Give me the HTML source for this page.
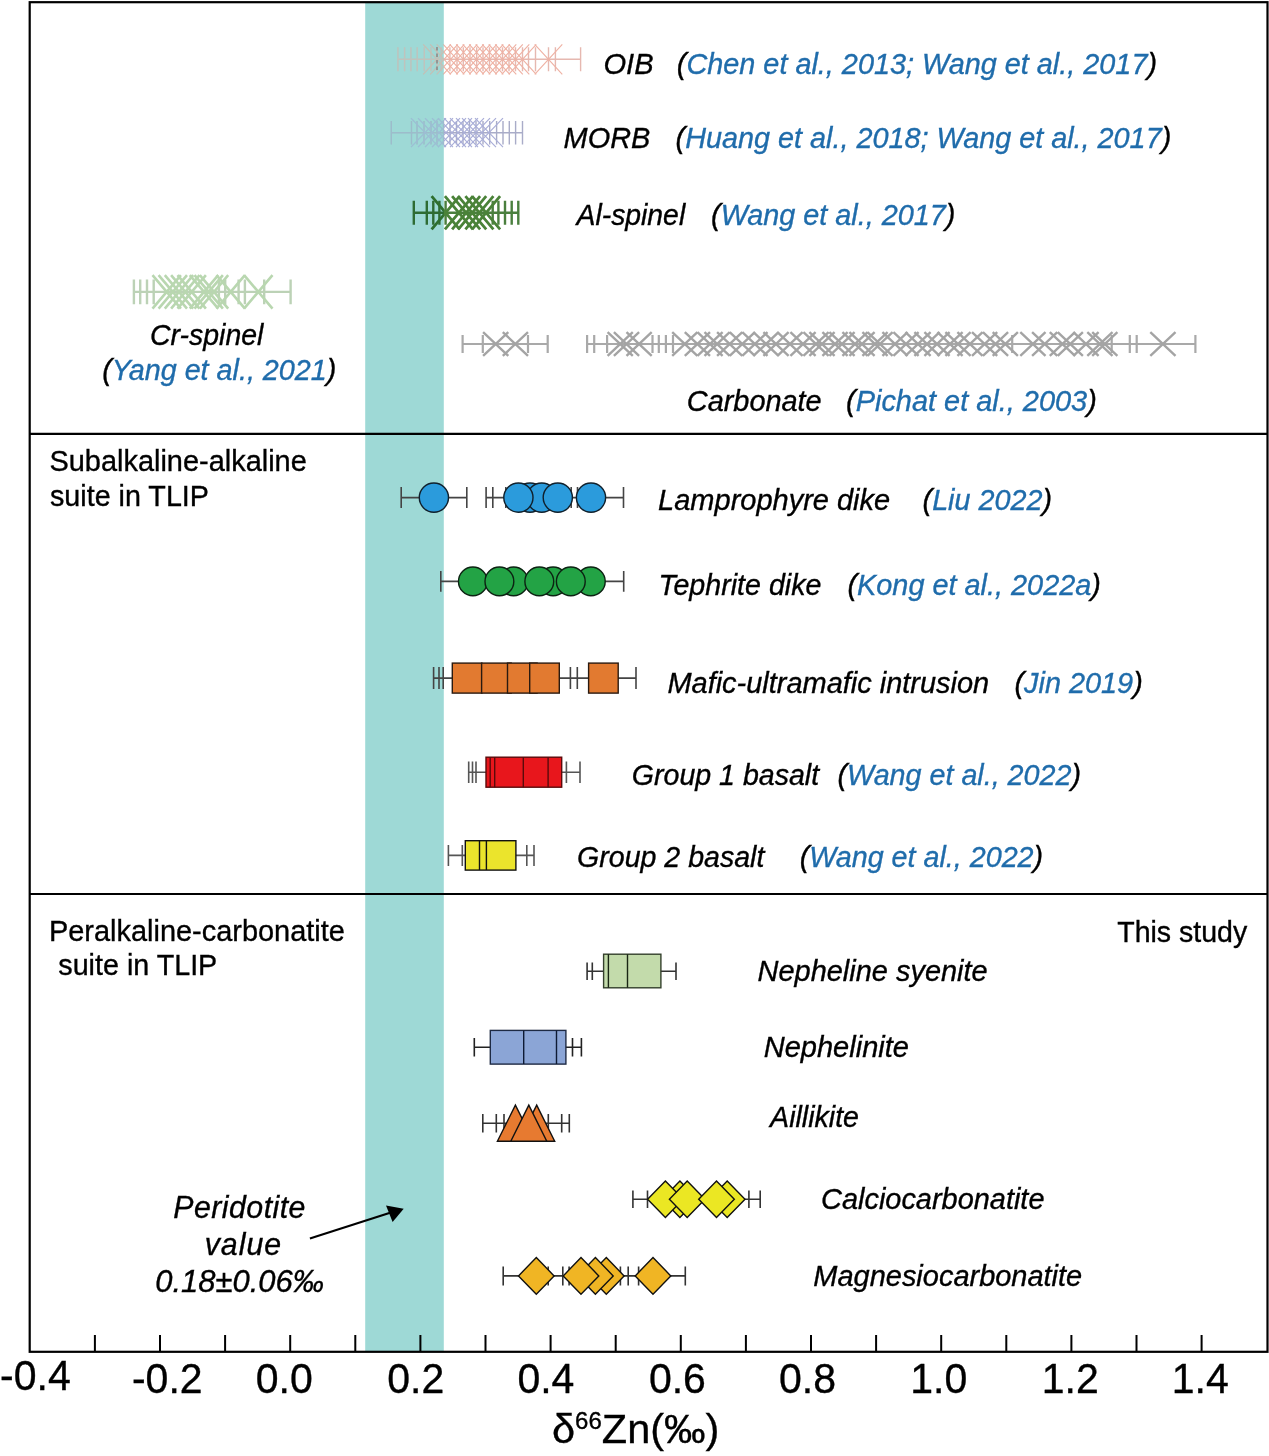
<!DOCTYPE html>
<html><head><meta charset="utf-8"><style>html,body{margin:0;padding:0;background:#fff}svg{display:block}</style></head>
<body><svg width="1269" height="1456" viewBox="0 0 1269 1456"><rect width="1269" height="1456" fill="#fff"/><path d="M397.9 59.3H580.6M397.9 47.3V71.3M404.6 47.3V71.3M410.9 47.3V71.3M417.2 47.3V71.3M424.3 47.3V71.3M431.0 47.3V71.3M436.9 47.3V71.3M441.2 47.3V71.3M449.9 47.3V71.3M457.0 47.3V71.3M463.3 47.3V71.3M470.0 47.3V71.3M476.7 47.3V71.3M483.0 47.3V71.3M489.5 47.3V71.3M496.0 47.3V71.3M502.5 47.3V71.3M509.0 47.3V71.3M515.5 47.3V71.3M522.5 47.3V71.3M528.5 47.3V71.3M535.5 47.3V71.3M548.5 47.3V71.3M555.4 47.3V71.3M580.6 47.3V71.3" stroke="#e6b8b0" stroke-width="1.4" fill="none"/><path d="M423.2 44.3L450.8 74.3M423.2 74.3L450.8 44.3" stroke="#efb2a4" stroke-width="1.15" fill="none"/><path d="M430.2 44.3L457.8 74.3M430.2 74.3L457.8 44.3" stroke="#efb2a4" stroke-width="1.15" fill="none"/><path d="M436.7 44.3L464.3 74.3M436.7 74.3L464.3 44.3" stroke="#efb2a4" stroke-width="1.15" fill="none"/><path d="M443.2 44.3L470.8 74.3M443.2 74.3L470.8 44.3" stroke="#efb2a4" stroke-width="1.15" fill="none"/><path d="M449.7 44.3L477.3 74.3M449.7 74.3L477.3 44.3" stroke="#efb2a4" stroke-width="1.15" fill="none"/><path d="M456.2 44.3L483.8 74.3M456.2 74.3L483.8 44.3" stroke="#efb2a4" stroke-width="1.15" fill="none"/><path d="M462.7 44.3L490.3 74.3M462.7 74.3L490.3 44.3" stroke="#efb2a4" stroke-width="1.15" fill="none"/><path d="M469.2 44.3L496.8 74.3M469.2 74.3L496.8 44.3" stroke="#efb2a4" stroke-width="1.15" fill="none"/><path d="M475.7 44.3L503.3 74.3M475.7 74.3L503.3 44.3" stroke="#efb2a4" stroke-width="1.15" fill="none"/><path d="M482.2 44.3L509.8 74.3M482.2 74.3L509.8 44.3" stroke="#efb2a4" stroke-width="1.15" fill="none"/><path d="M488.7 44.3L516.3 74.3M488.7 74.3L516.3 44.3" stroke="#efb2a4" stroke-width="1.15" fill="none"/><path d="M495.2 44.3L522.8 74.3M495.2 74.3L522.8 44.3" stroke="#efb2a4" stroke-width="1.15" fill="none"/><path d="M501.7 44.3L529.3 74.3M501.7 74.3L529.3 44.3" stroke="#efb2a4" stroke-width="1.15" fill="none"/><path d="M508.7 44.3L536.3 74.3M508.7 74.3L536.3 44.3" stroke="#efb2a4" stroke-width="1.15" fill="none"/><path d="M534.7 44.3L562.3 74.3M534.7 74.3L562.3 44.3" stroke="#efb2a4" stroke-width="1.15" fill="none"/><path d="M391.3 132.7H522.5M391.3 121.0V144.4M411.5 121.0V144.4M417.0 121.0V144.4M424.0 121.0V144.4M431.0 121.0V144.4M437.0 121.0V144.4M443.5 121.0V144.4M450.0 121.0V144.4M456.5 121.0V144.4M463.0 121.0V144.4M469.5 121.0V144.4M476.0 121.0V144.4M483.0 121.0V144.4M489.7 121.0V144.4M496.6 121.0V144.4M503.0 121.0V144.4M509.3 121.0V144.4M515.6 121.0V144.4M522.5 121.0V144.4" stroke="#a9acc8" stroke-width="1.4" fill="none"/><path d="M411.0 118.2L439.0 147.2M411.0 147.2L439.0 118.2" stroke="#a9aed8" stroke-width="1.2" fill="none"/><path d="M418.0 118.2L446.0 147.2M418.0 147.2L446.0 118.2" stroke="#a9aed8" stroke-width="1.2" fill="none"/><path d="M425.0 118.2L453.0 147.2M425.0 147.2L453.0 118.2" stroke="#a9aed8" stroke-width="1.2" fill="none"/><path d="M432.0 118.2L460.0 147.2M432.0 147.2L460.0 118.2" stroke="#a9aed8" stroke-width="1.2" fill="none"/><path d="M438.0 118.2L466.0 147.2M438.0 147.2L466.0 118.2" stroke="#a9aed8" stroke-width="1.2" fill="none"/><path d="M444.0 118.2L472.0 147.2M444.0 147.2L472.0 118.2" stroke="#a9aed8" stroke-width="1.2" fill="none"/><path d="M450.0 118.2L478.0 147.2M450.0 147.2L478.0 118.2" stroke="#a9aed8" stroke-width="1.2" fill="none"/><path d="M456.0 118.2L484.0 147.2M456.0 147.2L484.0 118.2" stroke="#a9aed8" stroke-width="1.2" fill="none"/><path d="M462.0 118.2L490.0 147.2M462.0 147.2L490.0 118.2" stroke="#a9aed8" stroke-width="1.2" fill="none"/><path d="M468.0 118.2L496.0 147.2M468.0 147.2L496.0 118.2" stroke="#a9aed8" stroke-width="1.2" fill="none"/><path d="M475.0 118.2L503.0 147.2M475.0 147.2L503.0 118.2" stroke="#a9aed8" stroke-width="1.2" fill="none"/><path d="M133.9 291.9H290.6M133.9 279.5V304.3M140.2 279.5V304.3M147.0 279.5V304.3M153.7 279.5V304.3M218.9 279.5V304.3M225.2 279.5V304.3M238.6 279.5V304.3M244.9 279.5V304.3M264.2 279.5V304.3M290.6 279.5V304.3" stroke="#bcd2b6" stroke-width="2.4" fill="none"/><path d="M152.5 275.2L180.9 308.6M152.5 308.6L180.9 275.2" stroke="#b9d7b0" stroke-width="2.6" fill="none"/><path d="M158.6 275.2L187.0 308.6M158.6 308.6L187.0 275.2" stroke="#b9d7b0" stroke-width="2.6" fill="none"/><path d="M164.8 275.2L193.2 308.6M164.8 308.6L193.2 275.2" stroke="#b9d7b0" stroke-width="2.6" fill="none"/><path d="M171.1 275.2L199.5 308.6M171.1 308.6L199.5 275.2" stroke="#b9d7b0" stroke-width="2.6" fill="none"/><path d="M177.5 275.2L205.9 308.6M177.5 308.6L205.9 275.2" stroke="#b9d7b0" stroke-width="2.6" fill="none"/><path d="M189.8 275.2L218.2 308.6M189.8 308.6L218.2 275.2" stroke="#b9d7b0" stroke-width="2.6" fill="none"/><path d="M194.5 275.2L222.9 308.6M194.5 308.6L222.9 275.2" stroke="#b9d7b0" stroke-width="2.6" fill="none"/><path d="M199.8 275.2L228.2 308.6M199.8 308.6L228.2 275.2" stroke="#b9d7b0" stroke-width="2.6" fill="none"/><path d="M216.5 275.2L244.9 308.6M216.5 308.6L244.9 275.2" stroke="#b9d7b0" stroke-width="2.6" fill="none"/><path d="M244.1 275.2L272.5 308.6M244.1 308.6L272.5 275.2" stroke="#b9d7b0" stroke-width="2.6" fill="none"/><path d="M462.6 344.0H547.7" stroke="#a9a9a9" stroke-width="2.2" fill="none"/><path d="M587.1 344.0H1195.4M462.6 335.0V353.0M482.8 335.0V353.0M528.0 335.0V353.0M547.7 335.0V353.0M587.1 335.0V353.0M594.2 335.0V353.0M607.1 335.0V353.0M652.5 335.0V353.0M658.8 335.0V353.0M665.9 335.0V353.0M673.0 335.0V353.0M1012.2 335.0V353.0M1111.7 335.0V353.0M1129.8 335.0V353.0M1136.7 335.0V353.0M1195.4 335.0V353.0" stroke="#a9a9a9" stroke-width="2.2" fill="none"/><path d="M483.1 332.2L508.3 355.8M483.1 355.8L508.3 332.2" stroke="#a4a4a4" stroke-width="2.4" fill="none"/><path d="M502.8 332.2L528.0 355.8M502.8 355.8L528.0 332.2" stroke="#a4a4a4" stroke-width="2.4" fill="none"/><path d="M607.6 332.2L632.8 355.8M607.6 355.8L632.8 332.2" stroke="#a4a4a4" stroke-width="2.4" fill="none"/><path d="M613.9 332.2L639.1 355.8M613.9 355.8L639.1 332.2" stroke="#a4a4a4" stroke-width="2.4" fill="none"/><path d="M626.5 332.2L651.7 355.8M626.5 355.8L651.7 332.2" stroke="#a4a4a4" stroke-width="2.4" fill="none"/><path d="M672.2 332.2L697.4 355.8M672.2 355.8L697.4 332.2" stroke="#a4a4a4" stroke-width="2.4" fill="none"/><path d="M684.8 332.2L710.0 355.8M684.8 355.8L710.0 332.2" stroke="#a4a4a4" stroke-width="2.4" fill="none"/><path d="M697.4 332.2L722.6 355.8M697.4 355.8L722.6 332.2" stroke="#a4a4a4" stroke-width="2.4" fill="none"/><path d="M704.5 332.2L729.7 355.8M704.5 355.8L729.7 332.2" stroke="#a4a4a4" stroke-width="2.4" fill="none"/><path d="M717.1 332.2L742.3 355.8M717.1 355.8L742.3 332.2" stroke="#a4a4a4" stroke-width="2.4" fill="none"/><path d="M729.7 332.2L754.9 355.8M729.7 355.8L754.9 332.2" stroke="#a4a4a4" stroke-width="2.4" fill="none"/><path d="M742.3 332.2L767.5 355.8M742.3 355.8L767.5 332.2" stroke="#a4a4a4" stroke-width="2.4" fill="none"/><path d="M753.4 332.2L778.6 355.8M753.4 355.8L778.6 332.2" stroke="#a4a4a4" stroke-width="2.4" fill="none"/><path d="M763.4 332.2L788.6 355.8M763.4 355.8L788.6 332.2" stroke="#a4a4a4" stroke-width="2.4" fill="none"/><path d="M777.4 332.2L802.6 355.8M777.4 355.8L802.6 332.2" stroke="#a4a4a4" stroke-width="2.4" fill="none"/><path d="M790.4 332.2L815.6 355.8M790.4 355.8L815.6 332.2" stroke="#a4a4a4" stroke-width="2.4" fill="none"/><path d="M803.4 332.2L828.6 355.8M803.4 355.8L828.6 332.2" stroke="#a4a4a4" stroke-width="2.4" fill="none"/><path d="M809.4 332.2L834.6 355.8M809.4 355.8L834.6 332.2" stroke="#a4a4a4" stroke-width="2.4" fill="none"/><path d="M822.4 332.2L847.6 355.8M822.4 355.8L847.6 332.2" stroke="#a4a4a4" stroke-width="2.4" fill="none"/><path d="M829.4 332.2L854.6 355.8M829.4 355.8L854.6 332.2" stroke="#a4a4a4" stroke-width="2.4" fill="none"/><path d="M842.4 332.2L867.6 355.8M842.4 355.8L867.6 332.2" stroke="#a4a4a4" stroke-width="2.4" fill="none"/><path d="M849.4 332.2L874.6 355.8M849.4 355.8L874.6 332.2" stroke="#a4a4a4" stroke-width="2.4" fill="none"/><path d="M862.4 332.2L887.6 355.8M862.4 355.8L887.6 332.2" stroke="#a4a4a4" stroke-width="2.4" fill="none"/><path d="M867.4 332.2L892.6 355.8M867.4 355.8L892.6 332.2" stroke="#a4a4a4" stroke-width="2.4" fill="none"/><path d="M882.4 332.2L907.6 355.8M882.4 355.8L907.6 332.2" stroke="#a4a4a4" stroke-width="2.4" fill="none"/><path d="M893.4 332.2L918.6 355.8M893.4 355.8L918.6 332.2" stroke="#a4a4a4" stroke-width="2.4" fill="none"/><path d="M905.4 332.2L930.6 355.8M905.4 355.8L930.6 332.2" stroke="#a4a4a4" stroke-width="2.4" fill="none"/><path d="M914.4 332.2L939.6 355.8M914.4 355.8L939.6 332.2" stroke="#a4a4a4" stroke-width="2.4" fill="none"/><path d="M924.4 332.2L949.6 355.8M924.4 355.8L949.6 332.2" stroke="#a4a4a4" stroke-width="2.4" fill="none"/><path d="M937.4 332.2L962.6 355.8M937.4 355.8L962.6 332.2" stroke="#a4a4a4" stroke-width="2.4" fill="none"/><path d="M945.4 332.2L970.6 355.8M945.4 355.8L970.6 332.2" stroke="#a4a4a4" stroke-width="2.4" fill="none"/><path d="M957.4 332.2L982.6 355.8M957.4 355.8L982.6 332.2" stroke="#a4a4a4" stroke-width="2.4" fill="none"/><path d="M972.0 332.2L997.2 355.8M972.0 355.8L997.2 332.2" stroke="#a4a4a4" stroke-width="2.4" fill="none"/><path d="M982.9 332.2L1008.1 355.8M982.9 355.8L1008.1 332.2" stroke="#a4a4a4" stroke-width="2.4" fill="none"/><path d="M992.7 332.2L1017.9 355.8M992.7 355.8L1017.9 332.2" stroke="#a4a4a4" stroke-width="2.4" fill="none"/><path d="M1020.3 332.2L1045.5 355.8M1020.3 355.8L1045.5 332.2" stroke="#a4a4a4" stroke-width="2.4" fill="none"/><path d="M1032.1 332.2L1057.3 355.8M1032.1 355.8L1057.3 332.2" stroke="#a4a4a4" stroke-width="2.4" fill="none"/><path d="M1049.8 332.2L1075.0 355.8M1049.8 355.8L1075.0 332.2" stroke="#a4a4a4" stroke-width="2.4" fill="none"/><path d="M1057.7 332.2L1082.9 355.8M1057.7 355.8L1082.9 332.2" stroke="#a4a4a4" stroke-width="2.4" fill="none"/><path d="M1073.4 332.2L1098.6 355.8M1073.4 355.8L1098.6 332.2" stroke="#a4a4a4" stroke-width="2.4" fill="none"/><path d="M1087.3 332.2L1112.5 355.8M1087.3 355.8L1112.5 332.2" stroke="#a4a4a4" stroke-width="2.4" fill="none"/><path d="M1092.2 332.2L1117.4 355.8M1092.2 355.8L1117.4 332.2" stroke="#a4a4a4" stroke-width="2.4" fill="none"/><path d="M1150.3 332.2L1175.5 355.8M1150.3 355.8L1175.5 332.2" stroke="#a4a4a4" stroke-width="2.4" fill="none"/><rect x="365.2" y="2.2" width="78.6" height="1349.6" fill="rgb(141,210,207)" fill-opacity="0.85"/><defs><clipPath id="bandclip"><rect x="365.2" y="0" width="78.6" height="1456"/></clipPath></defs><g clip-path="url(#bandclip)" opacity="0.5"><path d="M397.9 59.3H580.6M397.9 47.3V71.3M404.6 47.3V71.3M410.9 47.3V71.3M417.2 47.3V71.3M424.3 47.3V71.3M431.0 47.3V71.3M436.9 47.3V71.3M441.2 47.3V71.3M449.9 47.3V71.3M457.0 47.3V71.3M463.3 47.3V71.3M470.0 47.3V71.3M476.7 47.3V71.3M483.0 47.3V71.3M489.5 47.3V71.3M496.0 47.3V71.3M502.5 47.3V71.3M509.0 47.3V71.3M515.5 47.3V71.3M522.5 47.3V71.3M528.5 47.3V71.3M535.5 47.3V71.3M548.5 47.3V71.3M555.4 47.3V71.3M580.6 47.3V71.3" stroke="#e6b8b0" stroke-width="1.4" fill="none"/><path d="M423.2 44.3L450.8 74.3M423.2 74.3L450.8 44.3" stroke="#efb2a4" stroke-width="1.15" fill="none"/><path d="M430.2 44.3L457.8 74.3M430.2 74.3L457.8 44.3" stroke="#efb2a4" stroke-width="1.15" fill="none"/><path d="M436.7 44.3L464.3 74.3M436.7 74.3L464.3 44.3" stroke="#efb2a4" stroke-width="1.15" fill="none"/><path d="M443.2 44.3L470.8 74.3M443.2 74.3L470.8 44.3" stroke="#efb2a4" stroke-width="1.15" fill="none"/><path d="M449.7 44.3L477.3 74.3M449.7 74.3L477.3 44.3" stroke="#efb2a4" stroke-width="1.15" fill="none"/><path d="M456.2 44.3L483.8 74.3M456.2 74.3L483.8 44.3" stroke="#efb2a4" stroke-width="1.15" fill="none"/><path d="M462.7 44.3L490.3 74.3M462.7 74.3L490.3 44.3" stroke="#efb2a4" stroke-width="1.15" fill="none"/><path d="M469.2 44.3L496.8 74.3M469.2 74.3L496.8 44.3" stroke="#efb2a4" stroke-width="1.15" fill="none"/><path d="M475.7 44.3L503.3 74.3M475.7 74.3L503.3 44.3" stroke="#efb2a4" stroke-width="1.15" fill="none"/><path d="M482.2 44.3L509.8 74.3M482.2 74.3L509.8 44.3" stroke="#efb2a4" stroke-width="1.15" fill="none"/><path d="M488.7 44.3L516.3 74.3M488.7 74.3L516.3 44.3" stroke="#efb2a4" stroke-width="1.15" fill="none"/><path d="M495.2 44.3L522.8 74.3M495.2 74.3L522.8 44.3" stroke="#efb2a4" stroke-width="1.15" fill="none"/><path d="M501.7 44.3L529.3 74.3M501.7 74.3L529.3 44.3" stroke="#efb2a4" stroke-width="1.15" fill="none"/><path d="M508.7 44.3L536.3 74.3M508.7 74.3L536.3 44.3" stroke="#efb2a4" stroke-width="1.15" fill="none"/><path d="M534.7 44.3L562.3 74.3M534.7 74.3L562.3 44.3" stroke="#efb2a4" stroke-width="1.15" fill="none"/><path d="M391.3 132.7H522.5M391.3 121.0V144.4M411.5 121.0V144.4M417.0 121.0V144.4M424.0 121.0V144.4M431.0 121.0V144.4M437.0 121.0V144.4M443.5 121.0V144.4M450.0 121.0V144.4M456.5 121.0V144.4M463.0 121.0V144.4M469.5 121.0V144.4M476.0 121.0V144.4M483.0 121.0V144.4M489.7 121.0V144.4M496.6 121.0V144.4M503.0 121.0V144.4M509.3 121.0V144.4M515.6 121.0V144.4M522.5 121.0V144.4" stroke="#a9acc8" stroke-width="1.4" fill="none"/><path d="M411.0 118.2L439.0 147.2M411.0 147.2L439.0 118.2" stroke="#a9aed8" stroke-width="1.2" fill="none"/><path d="M418.0 118.2L446.0 147.2M418.0 147.2L446.0 118.2" stroke="#a9aed8" stroke-width="1.2" fill="none"/><path d="M425.0 118.2L453.0 147.2M425.0 147.2L453.0 118.2" stroke="#a9aed8" stroke-width="1.2" fill="none"/><path d="M432.0 118.2L460.0 147.2M432.0 147.2L460.0 118.2" stroke="#a9aed8" stroke-width="1.2" fill="none"/><path d="M438.0 118.2L466.0 147.2M438.0 147.2L466.0 118.2" stroke="#a9aed8" stroke-width="1.2" fill="none"/><path d="M444.0 118.2L472.0 147.2M444.0 147.2L472.0 118.2" stroke="#a9aed8" stroke-width="1.2" fill="none"/><path d="M450.0 118.2L478.0 147.2M450.0 147.2L478.0 118.2" stroke="#a9aed8" stroke-width="1.2" fill="none"/><path d="M456.0 118.2L484.0 147.2M456.0 147.2L484.0 118.2" stroke="#a9aed8" stroke-width="1.2" fill="none"/><path d="M462.0 118.2L490.0 147.2M462.0 147.2L490.0 118.2" stroke="#a9aed8" stroke-width="1.2" fill="none"/><path d="M468.0 118.2L496.0 147.2M468.0 147.2L496.0 118.2" stroke="#a9aed8" stroke-width="1.2" fill="none"/><path d="M475.0 118.2L503.0 147.2M475.0 147.2L503.0 118.2" stroke="#a9aed8" stroke-width="1.2" fill="none"/></g><g style="mix-blend-mode:multiply"><path d="M413.8 212.7H518.3M413.8 200.7V224.7M426.8 200.7V224.7M433.3 200.7V224.7M439.4 200.7V224.7M445.6 200.7V224.7M492.7 200.7V224.7M498.4 200.7V224.7M505.0 200.7V224.7M511.7 200.7V224.7M518.3 200.7V224.7" stroke="#4a7f3e" stroke-width="2.4" fill="none"/><path d="M431.6 196.1L459.6 229.3M431.6 229.3L459.6 196.1" stroke="#4a8238" stroke-width="2.8" fill="none"/><path d="M444.9 196.1L472.9 229.3M444.9 229.3L472.9 196.1" stroke="#4a8238" stroke-width="2.8" fill="none"/><path d="M452.1 196.1L480.1 229.3M452.1 229.3L480.1 196.1" stroke="#4a8238" stroke-width="2.8" fill="none"/><path d="M458.2 196.1L486.2 229.3M458.2 229.3L486.2 196.1" stroke="#4a8238" stroke-width="2.8" fill="none"/><path d="M465.4 196.1L493.4 229.3M465.4 229.3L493.4 196.1" stroke="#4a8238" stroke-width="2.8" fill="none"/><path d="M472.1 196.1L500.1 229.3M472.1 229.3L500.1 196.1" stroke="#4a8238" stroke-width="2.8" fill="none"/></g><path d="M437 47V72" stroke="#8a8a8a" stroke-width="1.6" stroke-dasharray="3.5 3"/><rect x="29.7" y="2.2" width="1237.8" height="1349.6" fill="none" stroke="#000" stroke-width="2.2"/><path d="M29.7 433.9H1267.5M29.7 894H1267.5" stroke="#000" stroke-width="2.2"/><path d="M94.9 1335V1351.8M160.0 1335V1351.8M225.1 1335V1351.8M290.2 1335V1351.8M355.3 1335V1351.8M420.4 1335V1351.8M485.5 1335V1351.8M550.6 1335V1351.8M615.7 1335V1351.8M680.8 1335V1351.8M745.9 1335V1351.8M811.0 1335V1351.8M876.1 1335V1351.8M941.2 1335V1351.8M1006.3 1335V1351.8M1071.4 1335V1351.8M1136.5 1335V1351.8M1201.6 1335V1351.8" stroke="#000" stroke-width="2"/><path d="M401.2 497.6H466.8M401.2 487.1V508.1M466.8 487.1V508.1" stroke="#444" stroke-width="1.6" fill="none"/><path d="M486.1 497.6H623.5M486.1 487.1V508.1M492.8 487.1V508.1M505.8 487.1V508.1M571.2 487.1V508.1M577.5 487.1V508.1M623.5 487.1V508.1" stroke="#444" stroke-width="1.6" fill="none"/><circle cx="433.9" cy="497.6" r="14.6" fill="#2b9bdc" stroke="#10202c" stroke-width="1.4"/><circle cx="530" cy="497.6" r="14.6" fill="#2b9bdc" stroke="#10202c" stroke-width="1.4"/><circle cx="541.7" cy="497.6" r="14.6" fill="#2b9bdc" stroke="#10202c" stroke-width="1.4"/><circle cx="518.4" cy="497.6" r="14.6" fill="#2b9bdc" stroke="#10202c" stroke-width="1.4"/><circle cx="557.8" cy="497.6" r="14.6" fill="#2b9bdc" stroke="#10202c" stroke-width="1.4"/><circle cx="591" cy="497.6" r="14.6" fill="#2b9bdc" stroke="#10202c" stroke-width="1.4"/><path d="M440.8 581.4H623.7M440.8 571.0V591.8M623.7 571.0V591.8" stroke="#444" stroke-width="1.6" fill="none"/><circle cx="513.6" cy="581.4" r="14.4" fill="#23a345" stroke="#0c2212" stroke-width="1.4"/><circle cx="553.1" cy="581.4" r="14.4" fill="#23a345" stroke="#0c2212" stroke-width="1.4"/><circle cx="590.8" cy="581.4" r="14.4" fill="#23a345" stroke="#0c2212" stroke-width="1.4"/><circle cx="472.9" cy="581.4" r="14.4" fill="#23a345" stroke="#0c2212" stroke-width="1.4"/><circle cx="499.4" cy="581.4" r="14.4" fill="#23a345" stroke="#0c2212" stroke-width="1.4"/><circle cx="539.3" cy="581.4" r="14.4" fill="#23a345" stroke="#0c2212" stroke-width="1.4"/><circle cx="570.8" cy="581.4" r="14.4" fill="#23a345" stroke="#0c2212" stroke-width="1.4"/><path d="M433.6 678.1H636.0M433.6 667.1V689.1M439.0 667.1V689.1M443.2 667.1V689.1M570.4 667.1V689.1M577.3 667.1V689.1M636.0 667.1V689.1" stroke="#444" stroke-width="1.6" fill="none"/><rect x="452.3" y="663.1" width="29.6" height="30" fill="#e27a30" stroke="#2a1a10" stroke-width="1.4"/><rect x="481.6" y="663.1" width="29.6" height="30" fill="#e27a30" stroke="#2a1a10" stroke-width="1.4"/><rect x="507.5" y="663.1" width="29.6" height="30" fill="#e27a30" stroke="#2a1a10" stroke-width="1.4"/><rect x="529.7" y="663.1" width="29.6" height="30" fill="#e27a30" stroke="#2a1a10" stroke-width="1.4"/><rect x="588.6" y="663.1" width="29.6" height="30" fill="#e27a30" stroke="#2a1a10" stroke-width="1.4"/><path d="M468.7 772.2H580.0M468.7 761.5V782.9M472.5 761.5V782.9M476.0 761.5V782.9M566.4 761.5V782.9M580.0 761.5V782.9" stroke="#555" stroke-width="1.6" fill="none"/><rect x="486" y="757.2" width="75.7" height="30" fill="#e8161c" stroke="#5a0a0a" stroke-width="1.4"/><path d="M490.2 757.2v30M494.7 757.2v30M523.3 757.2v30M548.1 757.2v30" stroke="#5a0a0a" stroke-width="1.4"/><path d="M448.4 855.4H534.0M448.4 844.9V865.9M462.3 844.9V865.9M526.8 844.9V865.9M534.0 844.9V865.9" stroke="#555" stroke-width="1.6" fill="none"/><rect x="465.3" y="840.6999999999999" width="50.6" height="29.4" fill="#ebe42c" stroke="#111" stroke-width="1.4"/><path d="M479.5 840.6999999999999v29.4M486.4 840.6999999999999v29.4" stroke="#111" stroke-width="1.4"/><path d="M587.1 971.2H676.0M587.1 962.4V980.0M592.3 962.4V980.0M676.0 962.4V980.0" stroke="#333" stroke-width="1.6" fill="none"/><rect x="603.6" y="954.2" width="57.3" height="33.6" fill="#c3dbab" stroke="#34402c" stroke-width="1.4"/><path d="M608.4 954.2v33.6M627.5 954.2v33.6" stroke="#1a2614" stroke-width="1.4"/><path d="M474.3 1047.3H581.4M474.3 1038.0V1056.6M572.5 1038.0V1056.6M581.4 1038.0V1056.6" stroke="#222" stroke-width="1.6" fill="none"/><rect x="490.3" y="1030.4" width="75.6" height="33.7" fill="#8ba5d6" stroke="#1e2a44" stroke-width="1.4"/><path d="M523.7 1030.4v33.7M556.5 1030.4v33.7" stroke="#0e1a34" stroke-width="1.4"/><path d="M482.8 1123.3H569.3M482.8 1114.1V1132.5M496.3 1114.1V1132.5M504.0 1114.1V1132.5M548.3 1114.1V1132.5M561.7 1114.1V1132.5M569.3 1114.1V1132.5" stroke="#333" stroke-width="1.6" fill="none"/><path d="M515.4 1105.1L533.4 1141.3H497.4Z" fill="#e77a30" stroke="#111" stroke-width="1.4" stroke-linejoin="miter"/><path d="M536.7 1105.1L554.7 1141.3H518.7Z" fill="#e77a30" stroke="#111" stroke-width="1.4" stroke-linejoin="miter"/><path d="M528.8 1105.1L546.8 1141.3H510.79999999999995Z" fill="#e77a30" stroke="#111" stroke-width="1.4" stroke-linejoin="miter"/><path d="M632.9 1199.3H760.2M632.9 1190.5V1208.1M647.5 1190.5V1208.1M748.9 1190.5V1208.1M760.2 1190.5V1208.1" stroke="#333" stroke-width="1.6" fill="none"/><path d="M679.9 1181.0L697.6999999999999 1199.3L679.9 1217.6L662.1 1199.3Z" fill="#ebe723" stroke="#111" stroke-width="1.4"/><path d="M727.2 1181.0L745.0 1199.3L727.2 1217.6L709.4000000000001 1199.3Z" fill="#ebe723" stroke="#111" stroke-width="1.4"/><path d="M665.4 1181.0L683.1999999999999 1199.3L665.4 1217.6L647.6 1199.3Z" fill="#ebe723" stroke="#111" stroke-width="1.4"/><path d="M687.2 1181.0L705.0 1199.3L687.2 1217.6L669.4000000000001 1199.3Z" fill="#ebe723" stroke="#111" stroke-width="1.4"/><path d="M716.5 1181.0L734.3 1199.3L716.5 1217.6L698.7 1199.3Z" fill="#ebe723" stroke="#111" stroke-width="1.4"/><path d="M503.2 1275.9H685.3M503.2 1266.4V1285.4M548.2 1266.4V1285.4M562.8 1266.4V1285.4M569.1 1266.4V1285.4M620.4 1266.4V1285.4M628.2 1266.4V1285.4M638.6 1266.4V1285.4M685.3 1266.4V1285.4" stroke="#333" stroke-width="1.6" fill="none"/><path d="M606.3 1257.5L624.0999999999999 1275.9L606.3 1294.3000000000002L588.5 1275.9Z" fill="#f0b524" stroke="#111" stroke-width="1.4"/><path d="M595.4 1257.5L613.1999999999999 1275.9L595.4 1294.3000000000002L577.6 1275.9Z" fill="#f0b524" stroke="#111" stroke-width="1.4"/><path d="M581 1257.5L598.8 1275.9L581 1294.3000000000002L563.2 1275.9Z" fill="#f0b524" stroke="#111" stroke-width="1.4"/><path d="M536.3 1257.5L554.0999999999999 1275.9L536.3 1294.3000000000002L518.5 1275.9Z" fill="#f0b524" stroke="#111" stroke-width="1.4"/><path d="M653 1257.5L670.8 1275.9L653 1294.3000000000002L635.2 1275.9Z" fill="#f0b524" stroke="#111" stroke-width="1.4"/><path d="M309.9 1238.5L394 1211.5" stroke="#000" stroke-width="2.2"/><path d="M403.7 1208.7L386 1205.4L392.6 1221.9Z" fill="#000"/><g font-family='"Liberation Sans", sans-serif'><text transform="matrix(1,0,0,1.04,0,-2.98)" x="603.44" y="74.5" font-size="29.11" font-style="italic" fill="#000" stroke="#000" stroke-width="0.35">OIB</text><text transform="matrix(1,0,0,1.04,0,-5.92)" x="563.63" y="147.9" font-size="28.92" font-style="italic" fill="#000" stroke="#000" stroke-width="0.35">MORB</text><text transform="matrix(1,0,0,1.04,0,-9.00)" x="576.52" y="225.0" font-size="28.34" font-style="italic" fill="#000" stroke="#000" stroke-width="0.35">Al-spinel</text><text transform="matrix(1,0,0,1.04,0,-13.79)" x="150.08" y="344.7" font-size="28.45" font-style="italic" fill="#000" stroke="#000" stroke-width="0.35">Cr-spinel</text><text transform="matrix(1,0,0,1.04,0,-16.43)" x="686.86" y="410.8" font-size="28.88" font-style="italic" fill="#000" stroke="#000" stroke-width="0.35">Carbonate</text><text transform="matrix(1,0,0,1.04,0,-20.39)" x="658.13" y="509.7" font-size="29.0" font-style="italic" fill="#000" stroke="#000" stroke-width="0.35">Lamprophyre dike</text><text transform="matrix(1,0,0,1.04,0,-23.80)" x="658.61" y="594.9" font-size="28.62" font-style="italic" fill="#000" stroke="#000" stroke-width="0.35">Tephrite dike</text><text transform="matrix(1,0,0,1.04,0,-27.73)" x="667.43" y="693.1999999999999" font-size="28.96" font-style="italic" fill="#000" stroke="#000" stroke-width="0.35">Mafic-ultramafic intrusion</text><text transform="matrix(1,0,0,1.04,0,-31.38)" x="631.86" y="784.5999999999999" font-size="28.57" font-style="italic" fill="#000" stroke="#000" stroke-width="0.35">Group 1 basalt</text><text transform="matrix(1,0,0,1.04,0,-34.68)" x="577.06" y="866.9" font-size="28.56" font-style="italic" fill="#000" stroke="#000" stroke-width="0.35">Group 2 basalt</text><text transform="matrix(1,0,0,1.04,0,-18.85)" x="49.44" y="471.2" font-size="28.95" fill="#000" stroke="#000" stroke-width="0.35">Subalkaline-alkaline</text><text transform="matrix(1,0,0,1.04,0,-20.26)" x="50.03" y="506.5" font-size="28.7" fill="#000" stroke="#000" stroke-width="0.35">suite in TLIP</text><text transform="matrix(1,0,0,1.04,0,-37.64)" x="48.99" y="941.0999999999999" font-size="28.94" fill="#000" stroke="#000" stroke-width="0.35">Peralkaline-carbonatite</text><text transform="matrix(1,0,0,1.04,0,-39.01)" x="58.33" y="975.3" font-size="28.7" fill="#000" stroke="#000" stroke-width="0.35">suite in TLIP</text><text transform="matrix(1,0,0,1.04,0,-37.68)" x="1117.23" y="941.9" font-size="28.54" fill="#000" stroke="#000" stroke-width="0.35">This study</text><text transform="matrix(1,0,0,1.04,0,-39.23)" x="757.53" y="980.8" font-size="28.96" font-style="italic" fill="#000" stroke="#000" stroke-width="0.35">Nepheline syenite</text><text transform="matrix(1,0,0,1.04,0,-42.28)" x="763.73" y="1057.0" font-size="29.04" font-style="italic" fill="#000" stroke="#000" stroke-width="0.35">Nephelinite</text><text transform="matrix(1,0,0,1.04,0,-45.10)" x="770.13" y="1127.5" font-size="28.57" font-style="italic" fill="#000" stroke="#000" stroke-width="0.35">Aillikite</text><text transform="matrix(1,0,0,1.04,0,-48.34)" x="821.05" y="1208.6" font-size="28.93" font-style="italic" fill="#000" stroke="#000" stroke-width="0.35">Calciocarbonatite</text><text transform="matrix(1,0,0,1.04,0,-51.44)" x="813.33" y="1286.1" font-size="28.98" font-style="italic" fill="#000" stroke="#000" stroke-width="0.35">Magnesiocarbonatite</text><text transform="matrix(1,0,0,1.04,0,-48.73)" x="173.26" y="1218.3" font-size="30.3" letter-spacing="0.47" font-style="italic" fill="#000" stroke="#000" stroke-width="0.35">Peridotite</text><text transform="matrix(1,0,0,1.04,0,-50.21)" x="204.7" y="1255.3" font-size="30.3" letter-spacing="1.0" font-style="italic" fill="#000" stroke="#000" stroke-width="0.35">value</text><text transform="matrix(1,0,0,1.04,0,-51.67)" x="155.26" y="1291.7" font-size="30.96" font-style="italic" fill="#000" stroke="#000" stroke-width="0.35">0.18±0.06‰</text><text transform="matrix(1,0,0,1.04,0,-2.98)" x="676.85" y="74.5" font-size="28.84" font-style="italic" fill="#000" stroke="#000" stroke-width="0.35">(<tspan fill="#1f6cab" stroke="#1f6cab">Chen et al., 2013; Wang et al., 2017</tspan>)</text><text transform="matrix(1,0,0,1.04,0,-5.92)" x="675.55" y="147.9" font-size="28.81" font-style="italic" fill="#000" stroke="#000" stroke-width="0.35">(<tspan fill="#1f6cab" stroke="#1f6cab">Huang et al., 2018; Wang et al., 2017</tspan>)</text><text transform="matrix(1,0,0,1.04,0,-9.00)" x="711.05" y="225.0" font-size="28.81" font-style="italic" fill="#000" stroke="#000" stroke-width="0.35">(<tspan fill="#1f6cab" stroke="#1f6cab">Wang et al., 2017</tspan>)</text><text transform="matrix(1,0,0,1.04,0,-15.20)" x="102.15" y="380.0" font-size="28.73" font-style="italic" fill="#000" stroke="#000" stroke-width="0.35">(<tspan fill="#1f6cab" stroke="#1f6cab">Yang et al., 2021</tspan>)</text><text transform="matrix(1,0,0,1.04,0,-16.43)" x="846.04" y="410.8" font-size="28.93" font-style="italic" fill="#000" stroke="#000" stroke-width="0.35">(<tspan fill="#1f6cab" stroke="#1f6cab">Pichat et al., 2003</tspan>)</text><text transform="matrix(1,0,0,1.04,0,-20.39)" x="922.55" y="509.7" font-size="28.75" font-style="italic" fill="#000" stroke="#000" stroke-width="0.35">(<tspan fill="#1f6cab" stroke="#1f6cab">Liu 2022</tspan>)</text><text transform="matrix(1,0,0,1.04,0,-23.80)" x="847.45" y="594.9" font-size="28.87" font-style="italic" fill="#000" stroke="#000" stroke-width="0.35">(<tspan fill="#1f6cab" stroke="#1f6cab">Kong et al., 2022a</tspan>)</text><text transform="matrix(1,0,0,1.04,0,-27.73)" x="1014.45" y="693.1999999999999" font-size="28.87" font-style="italic" fill="#000" stroke="#000" stroke-width="0.35">(<tspan fill="#1f6cab" stroke="#1f6cab">Jin 2019</tspan>)</text><text transform="matrix(1,0,0,1.04,0,-31.38)" x="837.55" y="784.5999999999999" font-size="28.7" font-style="italic" fill="#000" stroke="#000" stroke-width="0.35">(<tspan fill="#1f6cab" stroke="#1f6cab">Wang et al., 2022</tspan>)</text><text transform="matrix(1,0,0,1.04,0,-34.68)" x="799.65" y="866.9" font-size="28.7" font-style="italic" fill="#000" stroke="#000" stroke-width="0.35">(<tspan fill="#1f6cab" stroke="#1f6cab">Wang et al., 2022</tspan>)</text><text transform="matrix(1,0,0,1.04,0,-55.60)" x="0.08" y="1390.1" font-size="41" stroke="#000" stroke-width="0.35">-0.4</text><text transform="matrix(1,0,0,1.04,0,-55.73)" x="131.98" y="1393.3" font-size="41" stroke="#000" stroke-width="0.35">-0.2</text><text transform="matrix(1,0,0,1.04,0,-55.73)" x="255.7" y="1393.3" font-size="41" stroke="#000" stroke-width="0.35">0.0</text><text transform="matrix(1,0,0,1.04,0,-55.73)" x="387.3" y="1393.2" font-size="41" stroke="#000" stroke-width="0.35">0.2</text><text transform="matrix(1,0,0,1.04,0,-55.73)" x="517.4" y="1393.2" font-size="41" stroke="#000" stroke-width="0.35">0.4</text><text transform="matrix(1,0,0,1.04,0,-55.73)" x="648.9" y="1393.2" font-size="41" stroke="#000" stroke-width="0.35">0.6</text><text transform="matrix(1,0,0,1.04,0,-55.73)" x="779.0" y="1393.2" font-size="41" stroke="#000" stroke-width="0.35">0.8</text><text transform="matrix(1,0,0,1.04,0,-55.73)" x="910.2" y="1393.2" font-size="41" stroke="#000" stroke-width="0.35">1.0</text><text transform="matrix(1,0,0,1.04,0,-55.73)" x="1041.7" y="1393.2" font-size="41" stroke="#000" stroke-width="0.35">1.2</text><text transform="matrix(1,0,0,1.04,0,-55.73)" x="1171.7" y="1393.2" font-size="41" stroke="#000" stroke-width="0.35">1.4</text><g stroke="#000" stroke-width="0.35"><text x="552" y="1442.6" font-size="41.5">δ<tspan font-size="24" dy="-14">66</tspan><tspan dy="14" dx="0">Zn(‰)</tspan></text>
</g></g></svg></body></html>
